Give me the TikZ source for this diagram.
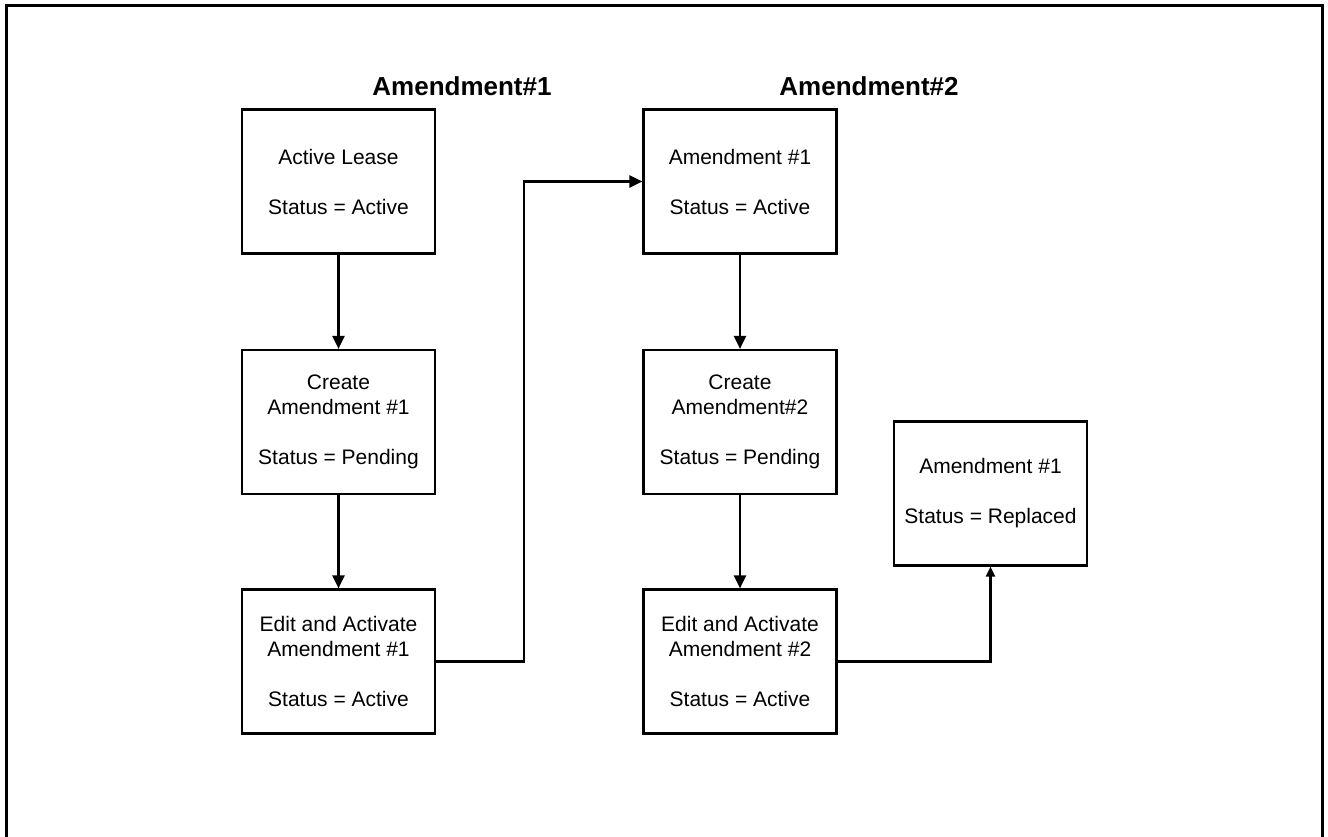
\documentclass[tikz,border=0pt]{standalone}
\usepackage{fontspec}
\setmainfont{Liberation Sans}
\usetikzlibrary{arrows.meta}
\begin{document}
\begin{tikzpicture}[x=1pt,y=-1pt,
  stepbox/.style={draw=black,line width=2.2pt,minimum width=193pt,minimum height=144pt,align=center,inner sep=0pt,font=\fontsize{21}{25}\selectfont},
  title/.style={font=\bfseries\fontsize{26}{30}\selectfont},
  conn/.style={line width=2.2pt,-{Triangle[length=13pt,width=12pt]}},
  smallconn/.style={line width=2.2pt,-{Triangle[length=10pt,width=9pt]}}]
\useasboundingbox (0,0) rectangle (1328,837);
\draw[line width=3pt] (6,837) -- (6,6) -- (1322,6) -- (1322,837);
\node[title] (t1) at (462,86) {Amendment\#1};
\node[title] (t2) at (869,86) {Amendment\#2};
\node[stepbox] (a1) at (338.5,181.5) {Active Lease\\[25pt]Status = Active};
\node[stepbox] (a2) at (338.5,422) {Create\\Amendment \#1\\[25pt]Status = Pending};
\node[stepbox] (a3) at (338.5,661.5) {Edit and Activate\\Amendment \#1\\[25pt]Status = Active};
\node[stepbox] (b1) at (740,181.5) {Amendment \#1\\[25pt]Status = Active};
\node[stepbox] (b2) at (740,422) {Create\\Amendment\#2\\[25pt]Status = Pending};
\node[stepbox] (b3) at (740,661.5) {Edit and Activate\\Amendment \#2\\[25pt]Status = Active};
\node[stepbox] (c) at (990.5,493.5) {Amendment \#1\\[25pt]Status = Replaced};
\coordinate (j1) at (524,661.5);
\draw[conn] (a1) -- (a2);
\draw[conn] (a2) -- (a3);
\draw[conn] (b1) -- (b2);
\draw[conn] (b2) -- (b3);
\draw[conn] (a3.east) -- (j1) |- (b1.west);
\draw[smallconn] (b3.east) -| (c.south);
\end{tikzpicture}
\end{document}
